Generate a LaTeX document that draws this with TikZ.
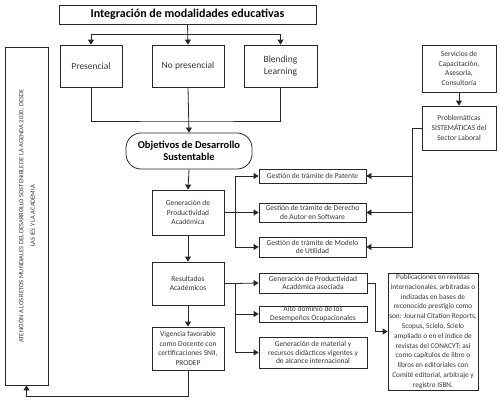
\documentclass[tikz,border=0pt]{standalone}
\usepackage{fontspec}
\setmainfont{Carlito}
\usepackage{tikz}
\usetikzlibrary{calc, positioning, arrows.meta}
\usepackage{xcolor}
\definecolor{lineC}{RGB}{40, 40, 40}
\definecolor{textC}{RGB}{55, 55, 55}
\newcommand{\boxfont}{\fontsize{7.5}{9.8}\selectfont}
\newcommand{\tightfont}{\fontsize{7.5}{8.6}\selectfont}

\tikzset{
  box/.style={draw=lineC, line width=0.8pt, fill=white, align=center,
              text=textC, inner sep=1pt, font=\boxfont},
  tightbox/.style={box, inner sep=0pt, font=\tightfont},
  modbox/.style={box, minimum height=42, font=\fontsize{9.5}{11.5}\selectfont},
  arr/.style={draw=lineC, line width=0.8pt, -{Triangle[width=6pt, length=5pt]}},
  ln/.style={draw=lineC, line width=0.8pt}
}

\begin{document}
\begin{tikzpicture}[x=1pt, y=-1pt]
  \useasboundingbox (0,0) rectangle (500,408);

  % --- Top: modalities ---
  \node[box, minimum width=257, minimum height=19, text=black,
        font=\fontsize{12}{14}\selectfont\bfseries] (title) at (187.5,14.5)
       {Integración de modalidades educativas};
  \node[modbox, minimum width=62] (pres) at (91,66) {Presencial};
  \node[modbox, minimum width=72] (nopres) at (188,66) {No presencial};
  \node[modbox, minimum width=73] (blend) at (280.5,66) {Blending\\Learning};

  % left column (rotated, so its west anchor is the bottom)
  \node[box, rotate=90, minimum width=338, minimum height=43,
        font=\fontsize{6.5}{11.5}\selectfont] (left) at (26.5,216)
       {ATENCIÓN A LOS RETOS MUNDIALES DEL DESARROLLO SOSTENIBLE DE LA AGENDA 2030, DESDE\\
        LAS IES Y LA ACADEMIA};

  % --- Central column ---
  \node[box, rounded corners=15pt, minimum width=126, minimum height=36, text=black,
        font=\fontsize{10.5}{12.5}\selectfont\bfseries] (ods) at (189,151)
       {Objetivos de Desarrollo\\Sustentable};
  \node[box, minimum width=72, minimum height=45] (gen) at (188,212.5)
       {Generación de\\Productividad\\Académica};
  \node[box, minimum width=72, minimum height=43] (res) at (188,283.5)
       {Resultados\\Académicos};
  \node[box, minimum width=72, minimum height=43] (vig) at (188,348.5)
       {Vigencia favorable\\como Docente con\\certificaciones SNII,\\PRODEP};

  % --- Procedures ---
  \node[tightbox, minimum width=107, minimum height=14] (pat) at (312.5,176)
       {Gestión de trámite de Patente};
  \node[tightbox, minimum width=107, minimum height=19] (der) at (312.5,212.5)
       {Gestión de trámite de Derecho\\de Autor en Software};
  \node[tightbox, minimum width=107, minimum height=20] (mod) at (312.5,247)
       {Gestión de trámite de Modelo\\de Utilidad};

  % --- Right column ---
  \node[box, minimum width=74, minimum height=47] (serv) at (459,68.5)
       {Servicios de\\Capacitación,\\Asesoría,\\Consultoría};
  \node[box, minimum width=74, minimum height=44] (prob) at (459,128)
       {Problemáticas\\SISTEMÁTICAS del\\Sector Laboral};

  % --- Results ---
  \node[tightbox, minimum width=108, minimum height=20] (asoc) at (313,283)
       {Generación de Productividad\\Académica asociada};
  \node[tightbox, minimum width=108, minimum height=16] (alto) at (313,314)
       {Alto dominio de los\\Desempeños Ocupacionales};
  \node[tightbox, minimum width=108, minimum height=31] (mat) at (313,352.5)
       {Generación de material y\\recursos didácticos vigentes y\\de alcance internacional};
  \node[box, minimum width=90, minimum height=117,
        font=\fontsize{7.3}{9.8}\selectfont] (pub) at (433,331.5)
       {Publicaciones en revistas\\internacionales, arbitradas o\\indizadas en bases de\\
        reconocido prestigio como\\son: Journal Citation Reports,\\Scopus, Scielo, Scielo\\
        ampliado o en el índice de\\revistas del CONACYT; así\\como capítulos de libro o\\
        libros en editoriales con\\Comité editorial, arbitraje y\\registro ISBN.};

  % --- Connectors ---
  \coordinate (split) at (188,34);
  \coordinate (join) at (188,121);
  \draw[arr] (title.south) -- (nopres.north);
  \draw[arr] (split) -| (pres.north);
  \draw[arr] (split) -| (blend.north);
  \draw[ln] (pres.south) |- (join) -| (blend.south);
  \draw[arr] (nopres.south) -- (ods.north);
  \draw[arr] (ods.south) -- (gen.north);
  \draw[arr] (gen.south) -- (res.north);
  \draw[arr] (res.south) -- (vig.north);
  \draw[arr] (vig.south) -- ++(0,26) -| (left.west);

  \coordinate (gbr) at (235,212.5);
  \draw[ln] (gen.east) -- (gbr);
  \draw[arr] (gbr) |- (pat.west);
  \draw[arr] (gbr) -- (der.west);
  \draw[arr] (gbr) |- (mod.west);

  \draw[arr] (serv.south) -- (prob.north);
  \coordinate (pbr) at (412,128);
  \draw[ln] (prob.west) -- (pbr);
  \draw[arr] (pbr) |- (pat.east);
  \draw[arr] (pbr) |- (der.east);
  \draw[arr] (pbr) |- (mod.east);

  \coordinate (rbr) at (235,283.5);
  \draw[ln] (res.east) -- (rbr);
  \draw[arr] (rbr) -- (asoc.west);
  \draw[arr] (rbr) |- (alto.west);
  \draw[arr] (rbr) |- (mat.west);
  \draw[arr] (asoc.east) -- ++(8,0) |- (pub.west);
\end{tikzpicture}
\end{document}
